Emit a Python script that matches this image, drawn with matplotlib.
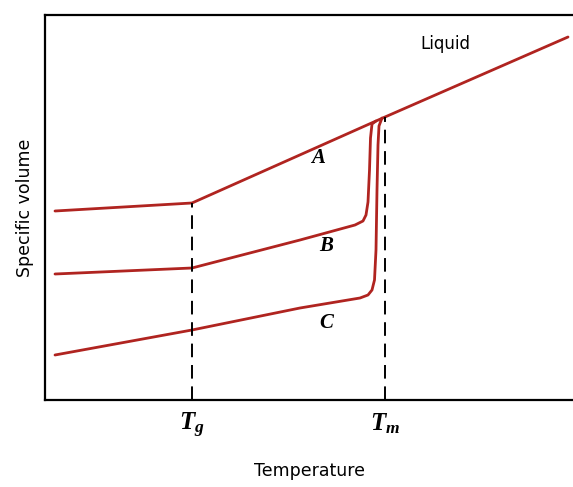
import matplotlib.pyplot as plt

plt.rcParams['mathtext.fontset'] = 'custom'
plt.rcParams['mathtext.it'] = 'Liberation Serif:italic:bold'
plt.rcParams['mathtext.rm'] = 'Liberation Serif'

# curve points (arbitrary temperature / volume units)
liq_x = [10, 147, 340, 523]
liq_y = [189, 197, 283, 363]

b_x = [10, 147, 255, 310, 318, 321, 323, 324.5, 325.5, 327, 331]
b_y = [126, 132, 160, 175, 179, 185, 198, 230, 262, 276, 279]

c_x = [10, 147, 255, 315, 323, 327, 329.5, 331, 332, 333, 334, 337]
c_y = [45, 70, 92, 102, 105, 110, 120, 150, 210, 255, 274, 282]

tg, tm = 147, 340
tg_top, tm_top = 197, 283

red = '#b02420'

fig = plt.figure(figsize=(5.73, 4.87), dpi=100)
ax = fig.add_axes([45 / 573, 87 / 487, 528 / 573, 385 / 487])

ax.plot(liq_x, liq_y, color=red, lw=2.0, solid_capstyle='round')
ax.plot(b_x, b_y, color=red, lw=2.0, solid_capstyle='round')
ax.plot(c_x, c_y, color=red, lw=2.0, solid_capstyle='round')

ax.plot([tg, tg], [0, tg_top], color='black', lw=1.4, dashes=(7, 4))
ax.plot([tm, tm], [0, tm_top], color='black', lw=1.4, dashes=(7, 4))

for lbl, x, y in [('A', 273, 243), ('B', 282, 155), ('C', 282, 78)]:
    ax.text(x, y, '$%s$' % lbl, fontsize=15, ha='center', va='center')
ax.text(400, 356, 'Liquid', fontsize=12, ha='center', va='center')

ax.set_xlim(0, 528)
ax.set_ylim(0, 385)
ax.set_xticks([tg, tm])
ax.set_xticklabels(['$T_g$', '$T_m$'], fontsize=18)
ax.tick_params(axis='x', length=0, pad=8)
ax.set_yticks([])
ax.set_xlabel('Temperature', fontsize=12.5, labelpad=16)
ax.set_ylabel('Specific volume', fontsize=12.5, labelpad=8)

ax.spines['right'].set_visible(False)
for s in ['left', 'top', 'bottom']:
    ax.spines[s].set_linewidth(1.6)

fig.savefig('out.png', dpi=100)
